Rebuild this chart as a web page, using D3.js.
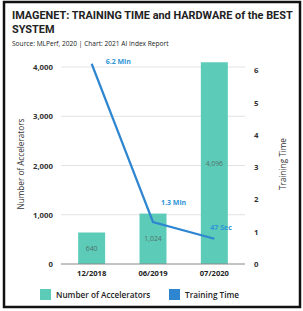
<!DOCTYPE html>
<html>
  <head>
  <script src="https://cdnjs.cloudflare.com/ajax/libs/d3/7.8.5/d3.min.js" charset="utf-8"></script>
  <style>
    body { margin: 0; background: #fff; }
    text { font-family: "Open Sans", sans-serif; }
  </style>
  </head>
  <body>
    <div id="chart"></div>
	<script type="text/javascript">

		var dates = ["12/2018", "06/2019", "07/2020"];
		var accelerators = [640, 1024, 4096];
		var trainingTime = [6.2, 1.3, 47 / 60];
		var timeLabels = ["6.2 Min", "1.3 Min", "47 Sec"];
		var leftTicks = [0, 1000, 2000, 3000, 4000];
		var rightTicks = [0, 1, 2, 3, 4, 5, 6];

		var barColor = "#5ccbb8";
		var lineColor = "#2e86d1";

		var svg = d3.select("#chart")
			.append("svg")
			.attr("width", 303)
			.attr("height", 311);

		// frame
		svg.append("rect")
			.attr("x", 4).attr("y", 2)
			.attr("width", 296).attr("height", 305)
			.attr("fill", "none")
			.attr("stroke", "#111")
			.attr("stroke-width", 2.5);

		svg.append("text")
			.attr("x", 12).attr("y", 19)
			.style("font-family", "Roboto, sans-serif")
			.attr("font-size", 10.9).attr("font-weight", "bold").attr("fill", "#222")
			.text("IMAGENET: TRAINING TIME and HARDWARE of the BEST");
		svg.append("text")
			.attr("x", 12).attr("y", 32.5)
			.style("font-family", "Roboto, sans-serif")
			.attr("font-size", 10.9).attr("font-weight", "bold").attr("fill", "#222")
			.text("SYSTEM");
		svg.append("text")
			.attr("x", 12).attr("y", 46)
			.attr("font-size", 6.6).attr("fill", "#222")
			.text("Source: MLPerf, 2020 | Chart: 2021 AI Index Report");

		var x = d3.scaleBand().domain(dates).range([61, 245]).paddingInner(0.56).paddingOuter(0.28);
		var yLeft = d3.scaleLinear().domain([0, 4000]).range([264, 67]);
		var yRight = d3.scaleLinear().domain([0, 6.1]).range([264, 67]);

		// gridlines
		svg.selectAll(".grid")
			.data(leftTicks.slice(1))
			.enter().append("line")
			.attr("x1", 61).attr("x2", 245)
			.attr("y1", function(d){ return yLeft(d); })
			.attr("y2", function(d){ return yLeft(d); })
			.attr("stroke", "#e2e2e2").attr("stroke-width", 1);

		var leftAxis = svg.append("g")
			.attr("transform", "translate(56,0)")
			.call(d3.axisLeft(yLeft).tickValues(leftTicks).tickSize(0).tickFormat(d3.format(",")));
		leftAxis.select(".domain").remove();
		leftAxis.selectAll("text").attr("font-size", 7.8).attr("font-weight", "bold").attr("fill", "#333")
			.attr("font-family", "Open Sans, sans-serif");

		var rightAxis = svg.append("g")
			.attr("transform", "translate(251,0)")
			.call(d3.axisRight(yRight).tickValues(rightTicks).tickSize(0).tickFormat(d3.format("d")));
		rightAxis.select(".domain").remove();
		rightAxis.selectAll("text").attr("font-size", 7.8).attr("font-weight", "bold").attr("fill", "#333")
			.attr("font-family", "Open Sans, sans-serif");

		svg.append("text")
			.attr("transform", "translate(24,164) rotate(-90)")
			.attr("text-anchor", "middle").attr("font-size", 8.2).attr("fill", "#333")
			.text("Number of Accelerators");
		svg.append("text")
			.attr("transform", "translate(286,164) rotate(-90)")
			.attr("text-anchor", "middle").attr("font-size", 8.2).attr("fill", "#333")
			.text("Training Time");

		// bars
		svg.selectAll(".bar")
			.data(accelerators)
			.enter().append("rect")
			.attr("x", function(d, i){ return x(dates[i]); })
			.attr("y", function(d){ return yLeft(d); })
			.attr("width", x.bandwidth())
			.attr("height", function(d){ return yLeft(0) - yLeft(d); })
			.attr("fill", barColor);

		svg.selectAll(".barlabel")
			.data(accelerators)
			.enter().append("text")
			.attr("x", function(d, i){ return x(dates[i]) + x.bandwidth() / 2; })
			.attr("y", function(d){ return (yLeft(d) + yLeft(0)) / 2 + 2.5; })
			.attr("text-anchor", "middle").attr("font-size", 6.8).attr("fill", "#53726c")
			.text(d3.format(","));

		// baseline
		svg.append("line")
			.attr("x1", 61).attr("x2", 245)
			.attr("y1", yLeft(0)).attr("y2", yLeft(0))
			.attr("stroke", "#888").attr("stroke-width", 1);

		// x labels
		svg.selectAll(".xlab")
			.data(dates)
			.enter().append("text")
			.attr("x", function(d){ return x(d) + x.bandwidth() / 2; })
			.attr("y", 276)
			.attr("text-anchor", "middle").attr("font-size", 7.6).attr("font-weight", "bold").attr("fill", "#222")
			.text(function(d){ return d; });

		// line
		var line = d3.line()
			.x(function(d, i){ return x(dates[i]) + x.bandwidth() / 2; })
			.y(function(d){ return yRight(d); });
		svg.append("path")
			.datum(trainingTime)
			.attr("d", line)
			.attr("fill", "none")
			.attr("stroke", lineColor)
			.attr("stroke-width", 2.2);

		var labelDx = [14, 8, -4];
		var labelDy = [0, -17, -9];
		svg.selectAll(".linelab")
			.data(trainingTime)
			.enter().append("text")
			.attr("x", function(d, i){ return x(dates[i]) + x.bandwidth() / 2 + labelDx[i]; })
			.attr("y", function(d, i){ return yRight(d) + labelDy[i]; })
			.attr("font-size", 7).attr("font-weight", "bold").attr("fill", "#2f95d6")
			.text(function(d, i){ return timeLabels[i]; });

		// legend
		var legend = [
			{ name: "Number of Accelerators", color: barColor, x: 40 },
			{ name: "Training Time", color: lineColor, x: 169 }
		];
		var lg = svg.selectAll(".leg").data(legend).enter().append("g");
		lg.append("rect")
			.attr("x", function(d){ return d.x; }).attr("y", 289)
			.attr("width", 11).attr("height", 11)
			.attr("fill", function(d){ return d.color; });
		lg.append("text")
			.attr("x", function(d){ return d.x + 16; }).attr("y", 298)
			.attr("font-size", 8.2).attr("font-weight", 600).attr("fill", "#222")
			.text(function(d){ return d.name; });

	</script>
  </body>
</html>
